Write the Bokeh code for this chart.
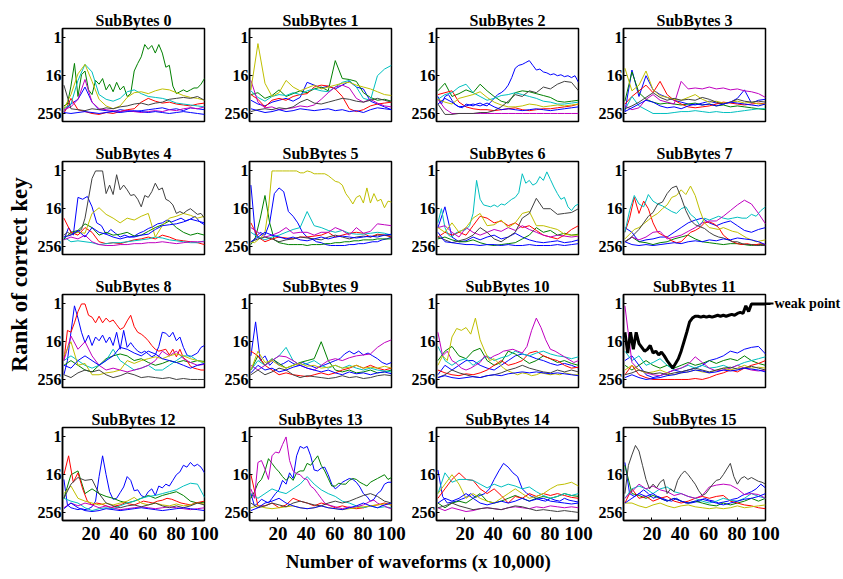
import numpy as np
from bokeh.plotting import figure
from bokeh.models import Range1d, FixedTicker, GridBox, Label, Arrow, NormalHead, LinearAxis
from bokeh.embed import file_html
from bokeh.resources import INLINE

# ---------------- data (rank of correct key stored as log2(rank): 0 -> 1, 4 -> 16, 8 -> 256) -------------
X_TICKS = [20, 40, 60, 80, 100]
Y_TICKS = [0, 4, 8]
Y_TICK_LABELS = {0: "1", 4: "16", 8: "256"}
TITLES = ["SubBytes %d" % i for i in range(16)]
X_LABEL = "Number of waveforms (x 10,000)"
Y_LABEL = "Rank of correct key"
ANNOT = "weak point"
COLORS = {"b": "#0000ff", "g": "#008000", "r": "#ff0000", "c": "#00bfbf",
          "m": "#bf00bf", "y": "#bfbf00", "k": "#404040", "K": "#000000"}

SB0 = [
    ("b", [7.8,7.0,6.5,5.2,6.8,7.6,7.7,7.8,7.6,7.7,7.8,7.7,7.6,7.5,7.4,7.6,7.5,7.7,7.4,7.5,7.6]),
    ("g", [7.2,7.0,5.1,2.7,6.2,3.9,3.5,5.5,6.0,4.5,4.9,4.3,5.5,4.9,5.7,4.7,5.5,5.1,6.2,5.9,3.5,2.7,2.0,0.7,1.2,0.8,1.6,0.7,1.6,3.1,2.9,5.1,5.9,5.7,5.5,5.7,5.5,5.3,5.3,4.9,4.3]),
    ("r", [8.0,6.4,7.6,7.8,8.0,8.1,7.9,8.0,7.8,7.6,7.5,6.8,6.4,6.7,6.9,6.8,7.0,7.1,7.2,7.0,6.9]),
    ("c", [7.5,7.0,4.5,2.8,3.6,6.0,6.5,6.7,6.4,5.7,5.5,5.9,6.2,6.3,6.4,6.6,6.9,7.0,7.1,7.2,7.3]),
    ("m", [7.6,7.3,6.5,4.4,6.8,7.5,7.6,7.7,7.8,7.7,7.8,7.9,7.8,7.7,7.8,7.6,7.7,7.5,7.4,7.5,7.3]),
    ("y", [7.5,6.0,3.8,2.8,4.6,6.5,7.2,7.5,7.2,6.3,5.8,5.7,5.9,5.6,5.4,5.5,5.8,6.1,6.3,6.4,6.6]),
    ("k", [5.0,7.5,7.6,7.7,7.5,7.6,7.4,7.5,7.3,7.2,7.0,6.9,7.1,6.9,6.8,6.5,6.4,6.3,6.4,6.2,6.6]),
    ("b", [7.9,8.0,7.9,7.8,7.9,8.0,7.9,7.8,7.9,7.8,7.7,7.8,7.9,7.8,7.9,8.0,7.9,7.8,7.9,8.0,8.1]),
]
SB1 = [
    ("b", [6.6,7.0,7.2,6.8,6.6,6.4,6.7,6.3,4.7,5.0,5.3,5.1,5.4,5.0,4.6,5.2,5.4,6.7,7.0,7.3,7.6]),
    ("g", [6.0,5.8,6.4,6.1,5.5,6.2,5.9,5.6,5.8,5.4,5.2,5.6,2.4,4.3,4.4,4.6,5.8,6.3,6.6,6.5,6.7]),
    ("r", [6.0,6.5,7.3,6.6,6.4,6.6,6.2,6.0,5.9,5.2,5.0,5.1,5.4,6.2,7.5,7.8,7.6,7.2,7.0,6.9,6.8]),
    ("c", [5.6,6.3,6.7,6.2,6.0,6.1,5.8,6.0,5.6,5.4,5.6,5.7,5.2,4.7,4.5,5.2,6.4,6.6,4.0,3.3,2.9]),
    ("m", [4.5,6.8,7.4,7.3,7.6,7.5,7.4,7.2,7.3,7.1,6.5,5.8,5.2,5.0,5.3,6.4,6.8,6.5,6.9,7.2,7.3]),
    ("y", [5.5,0.6,4.8,6.2,5.8,4.5,5.2,5.6,5.3,5.0,5.4,5.2,5.0,4.8,4.7,5.0,5.2,5.4,5.7,6.0,6.1]),
    ("k", [7.8,7.6,7.5,7.6,7.4,7.5,7.3,6.8,6.5,6.9,7.0,6.8,6.6,6.4,6.5,6.7,6.8,6.6,6.4,6.6,6.8]),
    ("b", [7.5,7.7,7.9,7.8,7.6,7.8,7.7,7.5,7.6,7.7,7.6,7.5,7.7,7.6,7.8,7.7,7.9,7.6,7.4,7.5,7.6]),
]
SB2 = [
    ("b", [6.2,7.0,6.2,6.0,6.6,7.1,7.3,7.4,7.0,7.1,7.2,7.0,6.9,7.1,7.2,6.8,6.4,6.0,5.8,5.5,5.0,4.2,3.2,2.9,2.8,2.6,2.4,2.9,3.4,3.3,3.6,3.7,3.9,3.8,4.0,3.9,4.1,4.0,4.2,4.0,4.7]),
    ("g", [5.6,4.8,6.2,5.9,5.5,5.8,4.9,5.6,6.2,6.7,6.9,5.8,5.6,5.7,5.9,6.1,6.3,6.7,6.8,6.7,6.6]),
    ("r", [6.0,5.8,5.6,6.8,7.3,7.5,7.6,7.6,7.7,7.6,7.5,7.4,7.6,7.7,7.6,7.5,7.5,7.4,7.3,7.2,7.0]),
    ("c", [6.5,6.0,5.8,5.2,4.9,5.8,6.2,6.6,6.4,6.1,6.0,5.8,6.0,6.2,6.4,6.7,6.8,7.0,7.0,6.9,6.8]),
    ("m", [6.5,7.5,8.0,8.0,8.0,8.0,8.0,8.0,8.0,8.0,8.0,8.0,8.0,8.0,8.0,8.0,8.0,8.0,8.0,8.0,8.0]),
    ("y", [6.5,6.8,7.0,6.4,6.2,6.0,5.7,6.3,6.8,7.1,7.3,7.3,7.2,7.0,7.1,7.3,7.2,7.1,7.2,7.1,7.0]),
    ("k", [7.0,8.1,8.1,8.0,8.0,8.0,7.9,7.9,7.7,7.3,6.7,6.0,6.2,5.6,5.8,5.2,5.4,4.9,4.6,4.7,5.6]),
    ("b", [7.0,6.4,6.8,7.3,7.2,7.0,7.2,6.9,7.3,7.6,7.5,7.6,7.7,7.6,7.5,7.6,7.7,7.6,7.5,7.4,7.3]),
]
SB3 = [
    ("b", [7.8,3.4,6.2,4.0,5.5,6.0,6.3,6.6,6.8,7.0,7.1,6.9,6.7,6.9,7.0,6.8,6.4,5.5,6.9,6.6,6.5]),
    ("g", [6.7,3.6,5.8,6.5,6.8,7.0,6.9,7.0,7.1,7.0,6.9,7.1,7.0,7.2,7.1,7.3,7.2,7.3,7.4,7.5,7.6]),
    ("r", [7.0,6.2,5.6,5.0,5.8,4.6,6.0,6.6,7.0,7.3,7.4,7.3,7.2,7.0,6.8,6.9,7.0,7.1,7.0,6.9,7.0]),
    ("c", [7.6,6.2,7.2,7.6,8.0,8.0,8.0,7.9,7.8,7.8,7.7,7.8,7.9,7.8,7.9,7.9,7.8,7.7,7.6,7.5,7.5]),
    ("m", [7.2,7.6,7.4,6.5,6.0,6.6,6.8,7.0,4.6,5.4,5.3,5.4,5.2,5.4,5.3,5.5,5.4,5.6,5.7,5.9,6.3]),
    ("y", [3.2,5.6,5.0,3.5,5.5,6.1,6.3,6.5,6.6,6.3,6.0,6.5,6.8,6.7,6.9,6.8,6.7,6.9,6.8,7.0,7.0]),
    ("k", [7.5,7.2,6.8,6.3,5.8,6.3,6.6,6.4,6.6,6.5,6.6,6.3,6.5,6.8,7.0,6.8,6.5,6.7,6.8,6.7,6.8]),
    ("b", [7.8,7.4,7.0,6.6,6.8,7.2,7.4,7.3,7.5,7.2,7.0,7.1,7.0,7.2,7.0,6.8,6.9,7.0,7.1,7.2,7.0]),
]
SB4 = [
    ("b", [7.3,6.0,6.8,2.8,3.0,2.7,3.8,5.5,5.8,6.7,6.2,6.6,7.0,6.8,7.0,6.9,6.6,6.4,6.1,5.9,5.6,5.5,5.2,5.4,5.2,5.0,5.3,5.1,4.8,5.4,5.7]),
    ("g", [7.2,6.5,6.3,5.6,6.0,6.8,6.5,6.8,6.7,6.5,6.9,6.8,6.4,6.0,5.7,5.3,6.0,6.5,6.8,6.6,6.8]),
    ("r", [5.0,6.5,6.8,6.0,6.5,7.5,7.7,7.6,7.7,7.5,7.3,7.2,7.0,7.2,6.8,7.0,7.3,7.4,7.5,7.6,7.8]),
    ("c", [7.0,7.5,7.4,7.5,7.6,7.8,7.7,7.6,7.6,7.5,7.4,7.3,7.2,7.0,7.1,7.3,7.4,7.5,7.6,7.6,7.4]),
    ("m", [7.3,7.0,7.2,6.8,7.5,7.8,7.9,7.9,7.8,7.8,7.7,7.7,7.6,7.6,7.5,7.6,7.7,7.6,7.5,7.5,7.5]),
    ("y", [7.0,6.7,6.5,6.6,4.5,3.9,4.6,5.0,5.5,5.0,5.2,4.8,4.5,7.0,5.8,5.0,4.8,4.5,4.7,5.0,4.8]),
    ("k", [6.8,6.5,6.7,6.6,6.4,6.2,5.0,2.9,0.8,0.0,0.0,0.0,2.4,1.5,2.5,0.4,2.0,1.5,2.0,2.6,2.5,3.0,3.8,2.6,2.8,2.2,1.3,2.0,1.8,3.0,3.2,3.6,4.5,4.3,4.5,4.2,4.0,4.3,4.6,4.5,5.0]),
    ("b", [7.0,6.8,6.3,7.0,6.0,6.5,6.7,7.0,7.2,7.0,7.0,6.8,6.7,6.2,5.8,5.7,5.6,5.4,5.1,5.3,5.5]),
]
SB5 = [
    ("b", [1.5,7.0,6.5,6.8,5.5,2.4,1.8,2.2,4.3,4.8,5.5,6.5,7.0,7.2,7.5,7.6,7.8,7.9,7.9,7.9,7.9,7.8,7.8,7.7,7.7,7.6,7.5,7.5,7.3,7.2,7.0]),
    ("g", [7.8,7.0,5.0,2.6,5.5,7.3,7.6,7.7,7.8,7.8,7.8,7.8,7.9,7.8,7.8,7.8,7.7,7.7,7.6,7.6,7.5,7.5,7.4,7.4,7.3,7.3,7.3,7.2,7.2,7.2,7.2]),
    ("r", [5.5,7.0,7.5,7.2,7.0,7.1,7.2,7.0,7.0,6.9,6.8,6.5,7.0,6.8,6.6,6.5,6.6,7.0,6.7,6.8,7.0]),
    ("c", [6.5,7.0,7.3,7.0,6.8,6.5,6.2,6.0,4.3,5.8,6.0,6.3,6.5,6.3,6.6,6.7,6.7,6.6,6.5,6.6,6.8]),
    ("m", [6.0,6.5,7.0,6.8,6.5,6.0,6.6,6.5,6.5,6.8,6.5,6.5,6.0,6.3,6.8,6.0,6.6,6.4,5.6,5.7,5.8]),
    ("y", [7.5,7.6,7.3,7.0,6.5,4.0,0.0,0.0,0.0,0.0,0.0,0.0,0.0,0.0,0.2,0.2,0.0,0.1,0.3,0.3,0.3,0.3,0.5,0.8,1.1,1.2,1.5,2.4,2.9,3.5,2.8,2.6,3.4,1.8,3.4,2.4,3.2,3.0,3.9,3.2,3.3]),
    ("k", [7.5,7.2,7.0,7.2,7.5,7.3,7.2,7.0,7.1,7.2,7.3,7.0,6.8,7.0,7.2,7.0,6.9,7.0,6.8,6.8,6.9]),
    ("b", [7.5,7.0,6.5,6.8,7.0,7.2,7.0,7.3,7.4,7.2,7.0,7.2,7.0,6.9,7.0,7.1,7.0,6.9,7.0,6.8,6.7]),
]
SB6 = [
    ("b", [6.0,3.8,7.0,7.5,7.4,7.0,7.3,7.0,6.8,7.2,7.0,6.6,7.0,7.3,7.5,7.6,7.5,7.4,7.6,7.5,7.3]),
    ("g", [7.2,7.0,7.3,7.5,7.5,7.3,7.6,7.8,7.9,7.8,7.7,7.6,7.2,6.8,6.0,6.5,6.3,6.8,6.6,6.8,6.7]),
    ("r", [7.0,6.5,6.8,6.5,6.8,5.8,4.8,5.0,5.5,5.3,5.8,5.5,6.0,5.8,6.3,6.8,7.0,7.2,6.8,6.2,5.8]),
    ("c", [5.5,4.0,6.0,6.8,7.0,6.6,6.4,6.3,6.2,5.8,4.5,1.0,3.0,3.6,3.7,3.8,3.6,3.8,3.5,3.6,3.3,3.0,2.8,2.3,0.3,1.3,1.0,1.5,1.3,0.6,1.0,0.1,0.9,1.7,2.4,3.0,2.8,3.8,4.2,3.7,3.5]),
    ("m", [6.0,5.8,6.5,7.0,6.0,6.5,6.8,6.5,6.2,6.4,6.0,6.3,5.8,6.2,6.5,6.8,7.0,6.8,6.9,7.0,6.9]),
    ("y", [6.0,6.5,5.5,6.5,6.0,5.0,4.5,5.8,5.7,5.2,6.0,5.5,4.5,4.3,5.8,5.8,6.0,6.2,6.7,6.8,6.8]),
    ("k", [7.0,7.3,7.6,7.4,7.2,6.8,6.0,6.5,7.2,7.5,7.0,6.5,5.0,4.5,2.9,4.0,4.0,4.6,4.5,4.4,4.0]),
    ("b", [6.5,7.5,7.6,7.7,7.8,7.8,7.9,7.8,7.8,7.9,7.8,7.9,7.9,7.8,7.9,7.9,7.9,7.8,7.9,7.8,7.7]),
]
SB7 = [
    ("b", [6.0,6.5,7.5,7.3,7.2,7.0,7.0,6.5,6.0,5.5,5.2,5.0,5.5,5.8,5.5,5.3,5.8,6.3,6.5,6.2,6.0]),
    ("g", [7.5,7.0,7.5,7.6,7.8,7.6,7.5,7.2,7.0,6.8,7.2,7.5,7.6,7.7,7.8,7.7,7.7,7.8,7.9,7.8,7.8]),
    ("r", [6.5,5.0,2.8,4.5,3.2,4.0,5.5,6.5,6.8,7.0,7.4,7.6,7.5,7.0,6.5,6.3,6.0,5.5,5.4,5.6,6.0,6.8,7.2,7.5,7.7,7.8,7.7,7.8,7.8,7.7,7.8]),
    ("c", [6.5,4.2,2.6,3.5,3.8,2.5,3.2,3.5,3.7,4.0,4.3,4.5,4.0,3.8,4.6,5.0,5.8,5.0,5.2,5.0,4.8,5.0,5.1,5.0,4.9,5.0,5.0,4.6,4.8,4.2,3.8]),
    ("m", [7.5,7.0,7.3,7.0,6.5,6.4,7.2,7.0,6.8,6.4,6.0,5.5,5.3,5.3,4.8,4.2,3.6,3.1,3.5,4.5,5.6]),
    ("y", [7.2,6.7,6.2,6.0,5.6,5.2,4.8,4.5,4.0,3.6,2.8,2.6,2.0,2.5,1.6,2.6,4.2,5.5,6.0,6.1,6.2,6.0,6.2,6.4,6.5,6.8,7.1,7.3,7.5,7.4,7.3]),
    ("k", [7.5,7.2,6.7,6.2,5.5,4.8,4.4,3.5,3.3,2.4,1.8,1.6,2.8,4.2,5.2,5.7,5.9,6.1,6.5,6.8,7.0,7.1,7.3,7.5,7.5,7.7,7.8,7.8,7.9,7.9,7.9]),
    ("b", [7.5,7.8,7.9,7.8,7.9,7.8,7.7,7.6,7.7,7.5,7.4,7.5,7.3,7.4,7.2,7.3,7.1,7.2,7.3,7.5,7.8]),
]
SB8 = [
    ("b", [7.5,6.0,3.0,0.2,1.5,3.0,4.1,3.3,4.4,3.5,3.9,3.3,4.1,3.5,4.4,3.0,4.8,2.8,4.6,4.1,4.6,5.0,5.2,5.0,5.3,5.6,5.4,4.5,3.0,3.1,3.5,3.0,3.9,3.5,4.6,5.4,5.6,5.4,5.2,4.6,4.4]),
    ("g", [6.5,6.0,6.5,7.0,7.2,6.5,5.8,5.5,5.3,5.5,6.0,5.8,6.2,6.5,6.3,6.0,6.2,6.0,6.2,6.0,6.1]),
    ("r", [6.0,2.8,3.0,2.0,0.8,0.0,0.0,1.2,1.4,2.0,1.3,2.0,1.5,1.9,1.7,2.2,2.7,2.5,1.8,1.2,2.4,3.0,3.2,3.5,3.9,4.4,4.8,5.0,4.9,4.8,5.4,4.8,5.6,4.8,5.7,6.0,6.6,6.8,6.9,7.0,7.0]),
    ("c", [6.0,5.5,6.0,6.5,6.8,6.5,6.0,4.8,6.0,6.5,7.0,6.8,6.5,7.0,7.0,6.5,6.0,5.5,5.5,6.0,6.3]),
    ("m", [6.0,3.4,4.8,4.0,5.5,6.5,7.0,6.8,7.0,7.2,7.0,6.8,6.5,6.0,5.0,5.5,5.0,5.8,6.2,6.5,6.4]),
    ("y", [5.5,4.0,6.5,6.3,7.5,7.5,7.3,7.2,7.0,6.0,6.3,6.0,5.8,5.6,5.8,5.5,5.3,5.5,5.8,6.0,6.2]),
    ("k", [7.5,7.8,7.3,7.0,7.2,7.0,7.5,7.8,7.6,7.3,7.5,7.8,7.7,7.8,7.9,7.8,8.0,7.9,8.0,8.0,8.0]),
    ("b", [6.5,6.8,6.0,5.5,6.0,6.5,6.0,5.5,4.6,4.8,5.2,5.5,5.0,5.3,5.8,6.0,6.2,6.5,6.8,6.5,6.3]),
]
SB9 = [
    ("b", [5.5,1.9,6.0,5.5,6.5,6.0,6.5,6.3,6.0,6.3,6.5,6.2,6.4,6.6,6.8,6.6,6.4,6.2,6.0,5.8,5.3,5.0,5.3,5.0,5.4,5.2,5.5,5.8,6.2,6.4,6.2]),
    ("g", [7.0,5.5,6.5,5.8,6.3,6.8,6.5,6.2,6.0,5.8,4.0,6.0,7.0,7.2,7.0,7.3,7.2,7.0,7.3,7.2,7.0]),
    ("r", [5.0,5.5,6.5,7.0,7.5,7.3,7.5,7.6,7.7,7.5,7.3,7.5,7.3,7.0,6.8,6.5,6.8,6.5,6.8,7.0,6.8]),
    ("c", [7.0,6.0,6.5,6.0,5.5,4.6,6.0,6.5,6.3,6.0,6.5,6.8,6.5,6.8,6.5,6.8,7.0,6.8,7.0,7.1,7.2]),
    ("m", [6.5,7.0,6.5,6.0,5.5,5.6,6.0,6.5,6.8,7.0,6.5,6.0,5.8,6.0,5.7,5.5,5.4,5.3,4.6,4.1,3.8]),
    ("y", [7.0,5.0,6.2,6.0,6.5,6.8,6.5,6.3,6.6,6.5,6.8,6.7,6.5,6.8,6.7,6.5,6.8,6.7,6.8,6.6,6.8]),
    ("k", [7.5,7.0,7.5,7.2,6.8,7.0,7.5,7.8,7.6,7.7,7.8,7.9,7.8,7.6,7.8,7.7,7.9,7.8,7.6,7.5,7.6]),
    ("b", [7.3,6.5,7.0,6.8,7.2,7.0,6.7,6.5,6.8,7.0,7.2,7.0,7.3,7.5,7.2,7.4,7.3,7.5,7.3,7.2,7.4]),
]
SB10 = [
    ("b", [7.5,6.5,7.0,6.5,6.0,6.0,6.5,6.8,7.0,6.5,6.0,5.5,5.3,5.5,5.8,6.0,6.3,6.5,6.3,6.5,6.8]),
    ("g", [6.0,5.0,4.5,5.5,5.8,5.0,4.7,6.0,6.5,6.2,5.0,5.3,5.8,6.3,6.0,5.5,5.8,6.2,6.0,6.3,6.5]),
    ("r", [7.0,7.3,7.5,7.6,7.4,7.5,7.3,7.0,6.5,6.0,6.5,6.3,6.0,5.2,5.0,5.5,5.8,6.0,6.5,6.8,6.7]),
    ("c", [4.5,6.0,6.5,6.0,5.8,6.5,6.0,5.5,6.0,5.7,5.5,5.0,5.3,5.5,5.2,5.0,5.3,5.5,5.6,5.8,5.6]),
    ("m", [3.0,5.5,5.0,6.0,6.3,6.8,7.0,6.8,6.5,6.2,5.5,5.8,5.5,5.3,5.0,4.9,4.8,5.0,5.2,4.5,2.8,1.5,2.5,3.8,4.8,5.0,5.3,5.6,5.9,6.2,6.0]),
    ("y", [6.5,5.5,6.0,3.5,2.6,2.8,2.5,3.2,1.5,3.8,5.0,6.0,5.8,6.3,6.8,7.1,7.3,7.5,7.3,7.4,7.6,7.5,7.3,7.4,7.5,7.4,7.5,7.3,7.4,7.5,7.5]),
    ("k", [7.8,7.5,7.0,7.3,7.5,7.7,7.8,7.6,7.5,7.3,7.0,6.8,6.5,6.8,7.0,7.2,7.3,7.0,7.2,7.0,7.2]),
    ("b", [7.8,7.6,7.8,7.9,7.8,7.7,7.8,7.6,7.5,7.6,7.4,7.3,7.2,7.3,7.2,7.3,7.4,7.3,7.4,7.5,7.6]),
]
SB11 = [
    ("b", [6.0,5.5,6.5,7.5,7.8,7.6,7.3,7.0,7.2,7.0,6.8,6.5,6.0,5.8,5.5,5.0,5.2,4.8,4.6,4.5,5.3]),
    ("g", [6.5,7.0,6.5,6.0,6.5,6.8,6.5,6.8,6.5,6.2,6.5,6.3,6.0,6.3,6.0,5.8,6.0,5.5,6.0,6.3,6.5]),
    ("r", [7.5,6.5,7.5,7.8,8.0,8.0,8.0,8.0,8.0,8.0,7.9,8.0,7.8,7.5,7.3,7.0,7.2,6.8,6.5,6.3,6.0]),
    ("c", [5.0,6.0,5.5,6.5,6.2,5.8,6.5,7.0,6.8,6.5,6.8,6.5,6.8,6.7,6.5,6.8,6.5,6.2,6.0,5.8,5.6]),
    ("m", [0.2,6.2,7.0,7.3,7.5,7.6,7.3,7.0,6.8,6.4,5.6,6.2,6.8,7.1,7.0,6.8,6.5,6.8,7.0,7.1,7.0]),
    ("y", [7.0,6.5,7.0,7.3,7.2,7.0,7.3,7.5,7.3,7.2,7.0,7.2,7.3,7.0,6.8,7.0,6.8,6.5,6.8,6.7,6.8]),
    ("k", [7.5,7.3,7.0,7.2,7.4,7.3,7.5,7.3,7.2,7.0,6.8,7.0,7.2,7.0,6.8,6.7,6.9,6.8,6.6,6.8,7.0]),
    ("b", [7.8,7.5,7.8,8.0,7.9,7.8,7.6,7.5,7.3,7.2,7.0,7.1,7.3,7.2,7.0,7.1,7.0,6.8,6.9,7.0,7.2]),
    ("K", [3.0,5.2,3.0,4.8,3.0,4.2,4.6,5.0,4.8,4.4,5.2,5.0,5.4,5.1,5.5,6.0,6.4,6.8,6.3,5.8,5.0,4.0,3.0,1.9,1.5,1.3,1.3,1.4,1.3,1.4,1.3,1.4,1.3,1.2,1.3,1.2,1.3,1.2,1.1,1.2,1.0,0.9,1.0,0.2,0.8,0.0,0.0,0.0,0.0,0.0,0.0]),
]
SB12 = [
    ("b", [4.5,7.2,7.5,7.6,7.7,7.6,7.7,7.6,7.4,6.8,4.2,2.0,4.0,5.8,6.6,6.5,5.9,5.3,4.2,4.6,5.7,5.6,6.2,6.4,5.8,5.5,6.2,5.2,5.4,5.0,5.2,4.6,4.0,3.7,3.0,3.2,2.7,3.1,2.9,3.2,3.8]),
    ("g", [6.5,4.0,3.6,6.0,5.5,6.0,6.3,6.5,6.8,7.0,6.8,6.5,6.2,6.5,6.2,6.0,5.8,6.2,6.8,7.0,6.9]),
    ("r", [4.0,2.0,4.8,3.8,5.5,6.8,7.2,7.0,7.1,7.3,7.5,7.3,7.2,7.0,7.1,7.2,7.0,6.8,6.9,7.0,6.8,6.7,6.5,6.6,6.8,7.0,7.1,7.2,7.0,6.9,6.8]),
    ("c", [6.5,6.8,7.0,7.5,7.8,7.6,7.5,7.6,7.3,7.0,6.8,6.5,6.3,6.2,6.0,5.8,5.6,5.2,4.9,5.0,6.4]),
    ("m", [7.5,7.0,7.3,7.0,7.2,7.5,7.3,7.5,7.7,7.6,7.5,7.4,7.5,7.6,7.5,7.4,7.5,7.6,7.7,7.6,7.5]),
    ("y", [6.0,5.2,6.5,6.8,7.0,7.2,7.0,7.2,7.0,6.8,6.4,7.0,7.2,7.0,7.2,7.3,7.1,7.3,7.2,7.0,7.1]),
    ("k", [6.5,5.0,4.3,4.6,4.5,6.0,7.0,7.3,7.5,7.3,7.2,7.4,7.2,7.0,7.3,7.5,7.3,7.5,7.3,7.0,7.2]),
    ("b", [7.6,7.0,7.5,7.8,7.9,7.8,7.6,7.7,7.8,7.7,7.6,7.5,7.6,7.7,7.8,7.7,7.6,7.5,7.6,7.7,7.8]),
]
SB13 = [
    ("b", [6.0,7.3,7.0,6.6,6.8,7.0,6.5,6.0,5.6,4.6,5.0,3.8,4.4,2.0,1.0,1.2,1.0,2.0,3.5,3.6,3.3,3.2,4.0,5.0,5.5,5.2,4.8,4.6,4.4,4.5,4.8,5.3,6.0,6.3,6.8,6.6,6.0,5.7,5.0,4.8,4.8]),
    ("g", [6.5,5.8,4.9,4.5,3.6,2.3,2.8,3.3,3.7,4.2,4.6,4.2,4.6,3.8,3.6,3.6,2.8,3.0,2.5,2.0,3.0,3.6,4.4,5.2,5.2,4.9,5.0,5.0,4.6,4.4,4.5,4.8,5.0,5.2,4.8,4.6,4.4,4.2,4.0,4.5,4.3]),
    ("r", [4.0,7.3,7.3,7.0,7.5,7.2,6.5,6.8,7.0,7.3,7.0,7.2,7.5,7.3,7.5,7.6,7.5,7.3,7.2,7.0,7.2]),
    ("c", [6.0,6.5,6.0,5.5,5.8,6.0,5.5,5.0,4.2,5.0,5.6,6.0,6.3,6.8,7.0,7.3,7.5,7.3,7.5,7.4,7.5]),
    ("m", [5.5,6.5,2.7,2.5,3.4,4.5,2.0,1.6,1.7,0.8,0.0,2.5,3.6,3.9,4.0,4.4,4.5,5.2,5.5,6.0,6.5,7.0,7.2,7.3,7.4,7.5,7.6,7.5,7.4,7.5,7.4,7.3,7.2,7.0,6.8,6.7,7.0,7.2,7.3,7.5,7.6]),
    ("y", [7.5,7.3,7.5,7.6,7.5,7.4,7.3,7.5,7.6,7.5,7.3,7.5,7.6,7.7,7.6,7.5,7.4,7.3,7.2,7.1,7.2]),
    ("k", [7.0,7.5,7.3,7.0,7.2,7.4,7.0,6.8,7.0,7.2,7.3,7.0,6.8,7.0,6.8,6.5,6.2,6.0,6.3,6.8,7.0]),
    ("b", [7.8,7.5,7.0,6.8,6.5,7.0,7.3,7.5,7.6,7.5,7.3,7.5,7.6,7.7,7.5,7.3,7.0,7.3,7.5,7.2,7.0]),
]
SB14 = [
    ("b", [3.5,6.3,7.0,6.9,6.8,6.6,6.4,6.0,6.4,6.2,6.0,5.5,4.5,3.6,2.8,3.2,3.8,4.2,5.5,6.0,6.3,6.5,6.7,6.8,6.5,6.7,6.8,6.5,6.7,6.8,6.9]),
    ("g", [7.0,7.5,7.0,6.8,7.0,6.5,6.0,6.8,7.0,6.8,6.5,6.2,6.5,6.8,6.5,6.3,6.5,6.3,6.0,6.2,6.3]),
    ("r", [6.5,5.5,4.5,3.8,4.5,4.6,5.5,6.0,5.5,6.2,7.0,6.3,6.5,6.0,6.3,6.0,6.2,6.0,6.2,6.4,6.5]),
    ("c", [6.0,3.8,4.8,4.5,4.5,4.6,5.0,5.4,5.0,5.3,5.0,5.2,5.5,5.3,5.8,6.2,6.5,6.3,6.0,6.2,6.0]),
    ("m", [7.5,7.8,7.5,7.7,7.9,7.8,7.6,7.5,7.6,7.7,7.5,7.4,7.5,7.6,7.4,7.5,7.3,7.4,7.5,7.4,7.5]),
    ("y", [6.0,5.0,4.0,5.0,6.5,6.0,6.5,6.8,7.0,6.5,6.0,5.5,6.0,6.5,6.3,6.0,5.5,5.1,5.0,4.8,5.2]),
    ("k", [7.5,7.3,7.0,7.3,7.5,7.7,7.6,7.5,7.6,7.7,7.5,7.3,7.4,7.6,7.8,7.7,7.8,7.9,7.8,7.9,8.0]),
    ("b", [7.0,6.5,6.8,6.5,6.0,6.5,7.0,7.2,7.0,6.8,7.0,6.8,6.5,6.8,6.6,6.5,6.8,6.9,7.0,7.1,7.0]),
]
SB15 = [
    ("b", [2.7,6.0,6.3,6.0,5.6,6.0,6.5,6.3,6.5,6.7,6.8,6.5,6.8,7.0,7.0,6.9,6.8,6.5,6.7,6.8,7.0,6.9,6.8,6.6,6.5,6.2,6.0,5.8,5.5,5.0,5.4]),
    ("g", [3.0,6.0,6.2,6.5,6.2,6.5,6.8,6.5,6.8,7.0,6.8,7.0,7.2,7.3,7.0,7.2,7.0,6.8,6.5,6.8,6.5]),
    ("r", [7.0,5.5,6.5,6.3,6.8,6.5,6.3,6.8,7.0,6.8,6.5,6.3,6.5,6.3,6.2,6.8,7.0,7.2,7.3,7.5,7.6]),
    ("c", [6.5,5.5,5.2,5.5,6.0,5.5,5.3,5.8,6.0,6.3,6.5,6.8,7.0,6.8,6.5,6.7,6.8,6.5,6.0,6.3,6.5]),
    ("m", [6.5,5.8,5.0,5.5,5.2,5.6,5.8,6.2,6.0,6.3,6.5,6.2,5.3,5.1,5.0,5.1,5.5,6.1,6.0,6.1,6.5]),
    ("y", [7.0,7.0,7.3,7.5,7.2,7.0,7.3,7.5,7.3,7.2,7.4,7.5,7.6,7.5,7.6,7.5,7.3,7.5,7.4,7.3,7.2]),
    ("k", [6.0,3.0,1.9,0.9,1.5,3.0,4.5,5.5,5.0,5.4,4.8,4.5,6.0,5.5,5.8,4.6,4.0,3.6,4.0,4.5,5.0,5.7,6.2,6.0,5.5,5.0,4.6,4.5,4.0,3.4,2.8,4.2,5.0,4.4,4.2,4.5,4.3,4.5,4.7,4.8,5.0]),
    ("b", [7.0,6.5,6.0,6.3,6.0,6.5,6.8,6.5,6.8,7.0,6.8,6.6,6.8,7.0,7.2,7.0,6.8,6.6,6.5,6.3,6.0]),
]
PANELS = [SB0, SB1, SB2, SB3, SB4, SB5, SB6, SB7, SB8, SB9, SB10, SB11, SB12, SB13, SB14, SB15]
WEAK_PANEL = 11
WEAK_RANK_LOG2 = 0  # the weak point sits at rank 1

# ---------------- styling ----------------
FONT = "Liberation Serif"
FRAME_W, FRAME_H = 142, 93


def style_axis(ax):
    ax.major_tick_in = 3
    ax.major_tick_out = 0
    ax.minor_tick_in = 0
    ax.minor_tick_out = 0
    ax.axis_line_color = "black"
    ax.axis_line_width = 1.5
    ax.major_tick_line_color = "black"
    ax.major_label_text_font = FONT
    ax.major_label_text_font_style = "bold"
    ax.major_label_text_color = "black"


def make_panel(i, series):
    r, c = divmod(i, 4)
    p = figure(frame_width=FRAME_W, frame_height=FRAME_H,
               x_range=Range1d(0, 100), y_range=Range1d(8.85, -1.0),
               toolbar_location=None, output_backend="svg", title=TITLES[i],
               min_border_left=25 if c == 0 else 29,
               min_border_right=81 if c == 3 else 16,
               min_border_top=28,
               min_border_bottom=30 if r == 3 else 12)
    p.title.align = "center"
    p.title.text_font = FONT
    p.title.text_font_size = "16px"
    p.title.text_font_style = "bold"
    p.title.text_color = "black"
    p.title.standoff = 0
    p.grid.visible = False
    p.background_fill_color = "white"
    p.border_fill_color = "white"
    p.outline_line_color = "black"
    p.outline_line_width = 1.5

    p.xaxis.ticker = FixedTicker(ticks=X_TICKS)
    p.yaxis.ticker = FixedTicker(ticks=Y_TICKS)
    p.yaxis.major_label_overrides = Y_TICK_LABELS
    style_axis(p.xaxis[0])
    style_axis(p.yaxis[0])
    p.yaxis.major_label_text_font_size = "16px"
    p.yaxis.major_label_standoff = 1
    if r == 3:
        p.xaxis.major_label_text_font_size = "19px"
        p.xaxis.major_label_standoff = 6
    else:
        p.xaxis.visible = False

    for code, vals in series:
        xs = np.linspace(1, 100, len(vals))
        p.line(xs, vals, line_color=COLORS[code], line_width=3 if code == "K" else 1)

    if i == WEAK_PANEL:
        # annotation text drawn as a right-hand axis label with an outward tick as the arrow shaft
        ax = LinearAxis(ticker=FixedTicker(ticks=[WEAK_RANK_LOG2]),
                        major_label_overrides={WEAK_RANK_LOG2: ANNOT})
        style_axis(ax)
        ax.axis_line_color = None
        ax.major_tick_in = 0
        ax.major_tick_out = 8
        ax.major_tick_line_width = 2
        ax.major_label_standoff = 1
        ax.major_label_text_font_size = "14px"
        p.add_layout(ax, "right")
        p.add_layout(Arrow(end=NormalHead(size=7, fill_color="black", line_color="black"),
                           x_start=103.5, y_start=WEAK_RANK_LOG2, x_end=100.4, y_end=WEAK_RANK_LOG2,
                           line_color="black", line_width=2))
    return p


panels = [make_panel(i, s) for i, s in enumerate(PANELS)]

ylab = figure(width=34, height=550, x_range=Range1d(0, 1), y_range=Range1d(0, 1),
              toolbar_location=None, output_backend="svg", min_border=0,
              x_axis_location=None, y_axis_location=None, outline_line_color=None)
ylab.grid.visible = False
ylab.add_layout(Label(x=0.56, y=0.5, text=Y_LABEL, angle=90, angle_units="deg",
                      text_align="center", text_baseline="middle", text_font=FONT,
                      text_font_size="23px", text_font_style="bold", text_color="black"))

xlab = figure(width=843, height=29, x_range=Range1d(0, 1), y_range=Range1d(0, 1),
              toolbar_location=None, output_backend="svg", min_border=0,
              x_axis_location=None, y_axis_location=None, outline_line_color=None)
xlab.grid.visible = False
xlab.add_layout(Label(x=0.5486, y=0.62, text=X_LABEL, text_align="center",
                      text_baseline="middle", text_font=FONT, text_font_size="19px",
                      text_font_style="bold", text_color="black"))

children = [(ylab, 0, 0, 4, 1)]
for i, p in enumerate(panels):
    r, c = divmod(i, 4)
    children.append((p, r, c + 1))
children.append((xlab, 4, 0, 1, 5))
layout = GridBox(children=children, spacing=0)

open("out.html", "w").write(file_html(layout, INLINE))
